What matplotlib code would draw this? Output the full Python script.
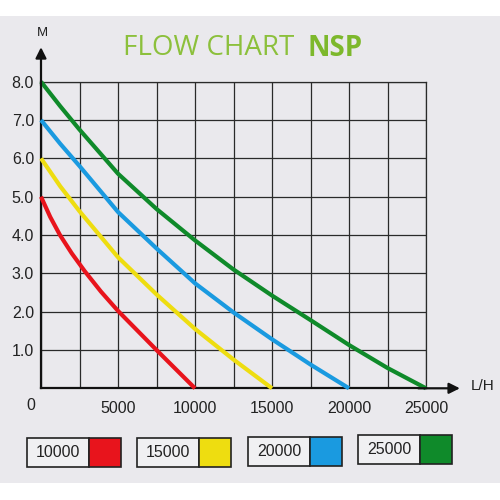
import matplotlib
matplotlib.use('Agg')
from matplotlib import pyplot as plt
from matplotlib.patches import Rectangle

# pump curves (flow in L/H, head in M)
flow_10000 = [0, 600, 1230, 2000, 2850, 3900, 5000, 7500, 10000]
head_10000 = [5.0, 4.47, 4.0, 3.52, 3.05, 2.52, 2.02, 1.0, 0.0]

flow_15000 = [0, 1250, 2500, 5000, 7500, 10000, 12500, 15000]
head_15000 = [6.0, 5.27, 4.62, 3.42, 2.45, 1.55, 0.75, 0.0]

flow_20000 = [0, 1250, 2500, 5000, 7500, 10000, 12500, 15000, 17500, 20000]
head_20000 = [7.0, 6.38, 5.8, 4.6, 3.65, 2.74, 1.98, 1.28, 0.62, 0.0]

flow_25000 = [0, 1250, 2500, 5000, 7500, 10000, 12500, 15000, 17500, 20000, 22500, 25000]
head_25000 = [8.0, 7.36, 6.75, 5.6, 4.68, 3.86, 3.1, 2.42, 1.78, 1.13, 0.53, 0.0]

models = ['10000', '15000', '20000', '25000']
colors = ['#e8141c', '#eedd10', '#1a9ae0', '#0f8a2a']

x_ticks = [0, 2500, 5000, 7500, 10000, 12500, 15000, 17500, 20000, 22500, 25000]
x_labels = ['', '', '5000', '', '10000', '', '15000', '', '20000', '', '25000']
y_ticks = [0, 1, 2, 3, 4, 5, 6, 7, 8]
y_labels = ['', '1.0', '2.0', '3.0', '4.0', '5.0', '6.0', '7.0', '8.0']

W = 500.0
def fx(px):
    return px / W
def fy(py):
    return 1 - py / W

fig = plt.figure(figsize=(5, 5), dpi=100)
fig.patch.set_facecolor('white')
bg = '#eae9ed'
fig.add_artist(Rectangle((0, fy(483)), 1, fy(16) - fy(483), transform=fig.transFigure,
                         facecolor=bg, edgecolor='none', zorder=0))

ax = fig.add_axes([fx(41), fy(388.3), fx(426) - fx(41), fy(81.7) - fy(388.3)])
ax.set_facecolor('none')
ax.set_xlim(0, 25000)
ax.set_ylim(0, 8)
ax.set_xticks(x_ticks)
ax.set_xticklabels(x_labels, fontsize=11.5, family='Liberation Sans', color='#222222')
ax.set_yticks(y_ticks)
ax.set_yticklabels(y_labels, fontsize=11.5, family='Liberation Sans', color='#222222')
ax.tick_params(length=0)
ax.tick_params(axis='x', pad=9)
ax.tick_params(axis='y', pad=5)
ax.grid(True, color='#2a2a2a', lw=0.9)
ax.set_axisbelow(True)
for s in ['top', 'right']:
    ax.spines[s].set_color('#2a2a2a')
    ax.spines[s].set_linewidth(0.9)
for s in ['left', 'bottom']:
    ax.spines[s].set_color('#111111')
    ax.spines[s].set_linewidth(1.6)

series = [(flow_10000, head_10000), (flow_15000, head_15000),
          (flow_20000, head_20000), (flow_25000, head_25000)]
for (fl, hd), c in zip(series, colors):
    ax.plot(fl, hd, color=c, lw=3.0, clip_on=False, solid_capstyle='butt',
            solid_joinstyle='round', zorder=3)

# axis arrows
arr = dict(arrowstyle='-|>', color='#111111', lw=1.6, mutation_scale=16,
           shrinkA=0, shrinkB=0)
ax.annotate('', xy=(0, 8.9), xytext=(0, 7.9), arrowprops=arr, annotation_clip=False)
ax.annotate('', xy=(27200, 0), xytext=(24500, 0), arrowprops=arr, annotation_clip=False)
ax.text(100, 9.27, 'M', fontsize=9.5, family='Liberation Sans', ha='center', va='center',
        color='#222222')
ax.text(28700, 0.05, 'L/H', fontsize=11, family='Liberation Sans', ha='center',
        va='center', color='#222222')
fig.text(fx(31), fy(406), '0', fontsize=11.5, family='Liberation Sans', ha='center',
         va='center', color='#222222')

# title
fig.text(fx(123), fy(48), 'FLOW CHART', fontsize=20, family='Open Sans',
         color='#8cc03c', ha='left', va='center')
fig.text(fx(308), fy(48), 'NSP', fontsize=20, family='Open Sans', fontweight='bold',
         color='#7db82c', ha='left', va='center')

# legend boxes
box_left = [26.7, 136.7, 247.7, 357.7]
box_top = [438.3, 438.3, 436.7, 435.0]
box_w = 94.0
sw_w = 31.5
box_h = 29.0
for lab, c, bl, bt in zip(models, colors, box_left, box_top):
    fig.add_artist(Rectangle((fx(bl), fy(bt + box_h)), (box_w - sw_w) / W, box_h / W,
                             transform=fig.transFigure, facecolor='#f0f0f2',
                             edgecolor='#222222', lw=1.2, zorder=2))
    fig.add_artist(Rectangle((fx(bl + box_w - sw_w), fy(bt + box_h)), sw_w / W, box_h / W,
                             transform=fig.transFigure, facecolor=c,
                             edgecolor='#222222', lw=1.2, zorder=2))
    fig.text(fx(bl + (box_w - sw_w) / 2), fy(bt + box_h / 2), lab, fontsize=11.5,
             family='Liberation Sans', ha='center', va='center', color='#222222', zorder=3)

fig.savefig('out.png', dpi=100)
